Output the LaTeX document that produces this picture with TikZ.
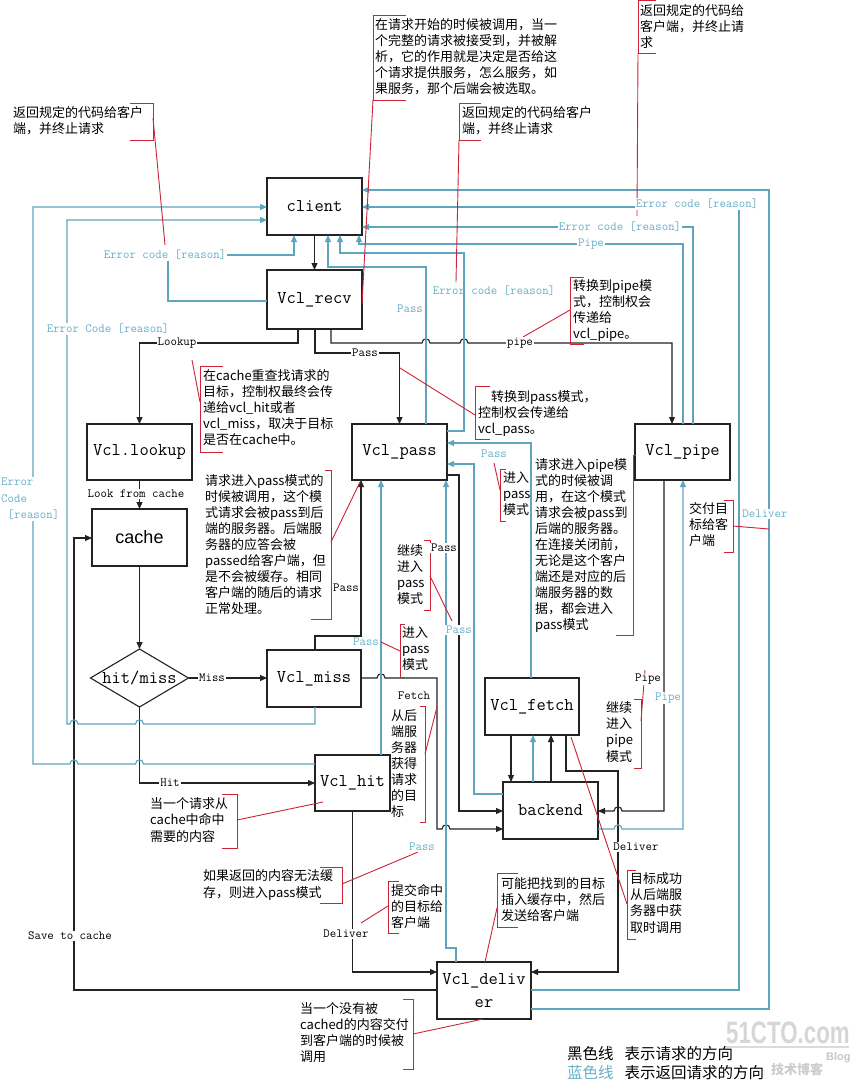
\documentclass[tikz,border=0pt]{standalone}
\usepackage{fontspec}
\newfontfamily\cjk{Noto Sans CJK SC}
\setsansfont{Liberation Sans}
\usetikzlibrary{arrows.meta,shapes.geometric}
\definecolor{lblue}{RGB}{95,165,190}
\definecolor{tblue}{RGB}{105,175,200}
\definecolor{rred}{RGB}{205,35,55}
\definecolor{boxc}{RGB}{35,35,35}
\begin{document}
\begin{tikzpicture}[x=1pt,y=-1pt,
  box/.style={draw=boxc, fill=white, line width=1.1pt, inner sep=0pt, outer sep=0pt, font=\ttfamily\fontsize{18}{23}\selectfont},
  bl/.style={draw=boxc, line width=1.1pt},
  bu/.style={draw=lblue, line width=1.1pt},
  rd/.style={draw=rred, line width=0.9pt},
  arr/.style={-{Triangle[length=7pt,width=6pt]}},
  lab/.style={font=\ttfamily\fontsize{12.5}{14}\selectfont, inner sep=1pt, fill=white},
  blab/.style={lab, text=tblue},
  note/.style={font=\cjk\fontsize{13}{16}\selectfont, align=left, anchor=north west, inner sep=0pt}]
\fill[white] (0,0) rectangle (864,1085);
\useasboundingbox (0,0) rectangle (864,1085);

% boxes
\node[box, minimum width=95pt, minimum height=57pt] (client) at (314.5,206.5) {client};
\node[box, minimum width=95pt, minimum height=59pt] (recv) at (314.5,299.5) {Vcl\_recv};
\node[box, minimum width=105pt, minimum height=56pt] (lookup) at (139.5,452) {Vcl.lookup};
\node[box, minimum width=95pt, minimum height=57pt, font=\sffamily\fontsize{18}{22}\selectfont] (cache) at (139.5,537.5) {cache};
\node[draw=boxc, fill=white, line width=1.1pt, diamond, minimum width=98pt, minimum height=58pt, inner sep=0pt, outer sep=0pt] (hm) at (139.5,678) {};
\node[font=\ttfamily\fontsize{18}{22}\selectfont, inner sep=0pt] (hmt) at (hm.center) {hit/miss};
\node[box, minimum width=94pt, minimum height=57pt] (miss) at (314,678.5) {Vcl\_miss};
\node[box, minimum width=75pt, minimum height=56pt] (hit) at (352.5,783) {Vcl\_hit};
\node[box, minimum width=95pt, minimum height=56pt] (pass) at (399.5,452) {Vcl\_pass};
\node[box, minimum width=95pt, minimum height=56pt] (pipe) at (682.5,452) {Vcl\_pipe};
\node[box, minimum width=94pt, minimum height=57pt] (fetch) at (532,706.5) {Vcl\_fetch};
\node[box, minimum width=95pt, minimum height=57pt] (backend) at (550.5,810.5) {backend};
\node[box, minimum width=94pt, minimum height=57pt, align=center] (deliver) at (484,990.5) {Vcl\_deliv\\er};

% black connectors (request direction)
\draw[bl,arr] (client.south) -- (recv.north);
\draw[bl,arr] (recv.south -| 298,0) |- (139.5,343) -- (lookup.north);
\draw[bl,arr] (recv.south -| 315,0) |- (399.5,353) -- (pass.north);
\draw[bl,arr] (recv.south -| 331,0) -- (331,343) -- (422,343) .. controls (422,337.5) and (430,337.5) .. (430,343) -- (460,343) .. controls (460,337.5) and (468,337.5) .. (468,343) -- (672,343) -- (pipe.north -| 672,0);
\draw[bl,arr] (lookup.south) -- (cache.north);
\draw[bl,arr] (cache.south) -- (hm.north);
\draw[bl,arr] (hm.east) -- (miss.west |- hm.east);
\draw[bl,arr] (hm.south) |- (hit.west);
\draw[bl,arr] (miss.north -| 315,0) |- (361,636) -- (pass.south -| 361,0);
\draw[bl,arr] (miss.east |- 0,678) -- (377,678) .. controls (377,672.5) and (385,672.5) .. (385,678) -- (437,678) -- (437,829) -- (442,829) .. controls (442,823.5) and (450,823.5) .. (450,829) -- (backend.west |- 0,829);
\draw[bl,arr] (pass.east |- 0,475) -| (459,811) -- (backend.west |- 0,811);
\draw[bl,arr] (fetch.south -| 511,0) -- (backend.north -| 511,0);
\draw[bl,arr] (backend.north -| 551,0) -- (fetch.south -| 551,0);
\draw[bl,arr] (fetch.south -| 566,0) |- (618,771) -- (618,972) -- (deliver.east |- 0,972);
\draw[bl,arr] (pipe.south -| 664,0) -- (664,811) -- (622,811) .. controls (622,805.5) and (614,805.5) .. (614,811) -- (backend.east |- 0,811);
\draw[bl,arr] (hit.south) |- (deliver.west |- 0,972);
\draw[bl,arr] (deliver.west |- 0,990) -| (74,538) -- (cache.west |- 0,538);

% blue connectors (return direction)
\draw[bu,arr] (hit.west |- 0,764) -- (143.5,764) .. controls (143.5,758.5) and (135.5,758.5) .. (135.5,764) -- (78,764) .. controls (78,758.5) and (70,758.5) .. (70,764) -- (33,764) -- (33,207) -- (client.west |- 0,207);
\draw[bu,arr] (miss.south -| 315,0) -- (315,724) -- (143.5,724) .. controls (143.5,718.5) and (135.5,718.5) .. (135.5,724) -- (78,724) .. controls (78,718.5) and (70,718.5) .. (70,724) -- (67,724) -- (67,220) -- (client.west |- 0,220);
\draw[bu,arr] (recv.west |- 0,301) -- (168,301) -- (168,255) -- (294,255) -- (client.south -| 294,0);
\draw[bu,arr] (pass.north -| 426,0) -- (426,267) -- (328,267) -- (client.south -| 328,0);
\draw[bu,arr] (pass.east |- 0,431) -- (464,431) -- (464,253) -- (340,253) -- (client.south -| 340,0);
\draw[bu,arr] (pipe.north -| 683,0) -- (683,244) -- (359,244) -- (client.south -| 359,0);
\draw[bu,arr] (pipe.north -| 693,0) -- (693,227) -- (client.east |- 0,227);
\draw[bu,arr] (deliver.east |- 0,990) -- (739,990) -- (739,207) -- (client.east |- 0,207);
\draw[bu,arr] (deliver.east |- 0,1009) -- (769,1009) -- (769,190) -- (client.east |- 0,190);
\draw[bu,arr] (hit.north -| 381,0) -- (pass.south -| 381,0);
\draw[bu,arr] (deliver.north -| 456,0) -- (456,948) -- (446,948) -- (pass.south -| 446,0);
\draw[bu,arr] (fetch.north -| 531,0) -- (531,443) -- (pass.east |- 0,443);
\draw[bu,arr] (backend.west |- 0,794) -- (474,794) -- (474,464) -- (pass.east |- 0,464);
\draw[bu,arr] (backend.north -| 533,0) -- (fetch.south -| 533,0);
\draw[bu,arr] (backend.east |- 0,829) -- (614,829) .. controls (614,823.5) and (622,823.5) .. (622,829) -- (683,829) -- (pipe.south -| 683,0);

% red annotation brackets and pointers
\draw[rd] (130,103) -- (153,103) -- (153,140) -- (130,140);
\draw[rd] (153,118) -- (165,245);
\draw[rd] (406,15) -- (373,15) -- (373,100) -- (406,100);
\draw[rd] (373,100) -- (362,304);
\draw[rd] (481,103) -- (459,103) -- (459,140) -- (481,140);
\draw[rd] (459,140) -- (456,282);
\draw[rd] (656,0.5) -- (638,0.5) -- (638,53) -- (656,53);
\draw[rd] (638,53) -- (637,216);
\draw[rd] (584,277) -- (570,277) -- (570,344) -- (584,344);
\draw[rd] (570,310) -- (523,337);
\draw[rd] (223,366) -- (200,366) -- (200,452) -- (223,452);
\draw[rd] (200,402) -- (192,360);
\draw[rd] (490,386) -- (475,386) -- (475,439) -- (490,439);
\draw[rd] (475,415) -- (400,368);
\draw[rd] (506,469) -- (500,469) -- (500,521) -- (506,521);
\draw[rd] (500,490) -- (494,463);
\draw[rd] (636,455) -- (633,455) -- (633,635) -- (616,635);
\draw[rd] (424,540) -- (430,540) -- (430,610) -- (424,610);
\draw[rd] (430,576) -- (452,621);
\draw[rd] (325,470) -- (331,470) -- (331,619) -- (311,619);
\draw[rd] (331,542) -- (360,482);
\draw[rd] (405,624) -- (400,624) -- (400,677) -- (405,677);
\draw[rd] (400,651) -- (381,642);
\draw[rd] (420,706) -- (425,706) -- (425,822) -- (420,822);
\draw[rd] (425,754) -- (437,707);
\draw[rd] (222,794) -- (237,794) -- (237,848) -- (222,848);
\draw[rd] (237,820) -- (323,802);
\draw[rd] (320,867) -- (342,867) -- (342,903) -- (320,903);
\draw[rd] (342,884) -- (418,852);
\draw[rd] (399,881) -- (388,881) -- (388,933) -- (399,933);
\draw[rd] (388,906) -- (361,923);
\draw[rd] (518,873) -- (497,873) -- (497,927) -- (518,927);
\draw[rd] (497,908) -- (485,962);
\draw[rd] (636,870) -- (627,870) -- (627,939) -- (636,939);
\draw[rd] (627,904) -- (571,737);
\draw[rd] (403,999) -- (413,999) -- (413,1069) -- (403,1069);
\draw[rd] (413,1034) -- (483,1019);
\draw[rd] (724,500) -- (733,500) -- (733,552) -- (724,552);
\draw[rd] (733,526) -- (769,529);
\draw[rd] (634,699) -- (641,699) -- (641,768) -- (634,768);
\draw[rd] (641,721) -- (645,670);

% connector labels
\node[lab] (t1) at (177,343) {Lookup};
\node[lab] (t2) at (365,353) {Pass};
\node[lab] (t3) at (520,343) {pipe};
\node[lab] (t4) at (136,494) {Look from cache};
\node[lab] (t5) at (212,678) {Miss};
\node[lab] (t6) at (170,783) {Hit};
\node[lab] (t7) at (346,588) {Pass};
\node[lab] (t8) at (414,696) {Fetch};
\node[lab] (t9) at (444,548) {Pass};
\node[lab] (t10) at (648,679) {Pipe};
\node[lab] (t11) at (346,934) {Deliver};
\node[lab] (t12) at (636,847) {Deliver};
\node[lab] (t13) at (70,936) {Save to cache};
\node[blab] (u1) at (165,255) {Error code [reason]};
\node[blab] (u2) at (108,329) {Error Code [reason]};
\node[blab, font=\ttfamily\fontsize{12.5}{16.5}\selectfont, align=left, anchor=north west] (u3) at (0,477) {Error\\Code\\\hspace*{6.5pt}[reason]};
\node[blab] (u4) at (410,309) {Pass};
\node[blab, fill=none] (u5) at (494,291) {Error code [reason]};
\node[blab] (u6) at (591,244) {Pipe};
\node[blab] (u7) at (620,227) {Error code [reason]};
\node[blab] (u8) at (697,204) {Error code [reason]};
\node[blab] (u9) at (765,514) {Deliver};
\node[blab] (u10) at (494,454) {Pass};
\node[blab] (u11) at (459,630) {Pass};
\node[blab] (u12) at (366,642) {Pass};
\node[blab] (u13) at (422,847) {Pass};
\node[blab] (u14) at (668,698) {Pipe};

% notes
\node[note] (n1) at (13,106) {返回规定的代码给客户\\端，并终止请求};
\node[note] (n2) at (375,18) {在请求开始的时候被调用，当一\\个完整的请求被接受到，并被解\\析，它的作用就是决定是否给这\\个请求提供服务，怎么服务，如\\果服务，那个后端会被选取。};
\node[note] (n3) at (462,106) {返回规定的代码给客户\\端，并终止请求};
\node[note] (n4) at (640,4) {返回规定的代码给\\客户端，并终止请\\求};
\node[note] (n5) at (573,279) {转换到pipe模\\式，控制权会\\传递给\\vcl\_pipe。};
\node[note] (n6) at (203,369) {在cache重查找请求的\\目标，控制权最终会传\\递给vcl\_hit或者\\vcl\_miss，取决于目标\\是否在cache中。};
\node[note] (n7) at (478,390) {　转换到pass模式，\\控制权会传递给\\vcl\_pass。};
\node[note] (n8) at (503,472) {进入\\pass\\模式};
\node[note] (n9) at (535,458) {请求进入pipe模\\式的时候被调\\用，在这个模式\\请求会被pass到\\后端的服务器。\\在连接关闭前，\\无论是这个客户\\端还是对应的后\\端服务器的数\\据，都会进入\\pass模式};
\node[note] (n10) at (397,544) {继续\\进入\\pass\\模式};
\node[note] (n11) at (205,474) {请求进入pass模式的\\时候被调用，这个模\\式请求会被pass到后\\端的服务器。后端服\\务器的应答会被\\passed给客户端，但\\是不会被缓存。相同\\客户端的随后的请求\\正常处理。};
\node[note] (n12) at (402,627) {进入\\pass\\模式};
\node[note] (n13) at (391,709) {从后\\端服\\务器\\获得\\请求\\的目\\标};
\node[note, font=\cjk\fontsize{13}{16.5}\selectfont] (n14) at (150,797) {当一个请求从\\cache中命中\\需要的内容};
\node[note, font=\cjk\fontsize{13}{17}\selectfont] (n15) at (203,869) {如果返回的内容无法缓\\存，则进入pass模式};
\node[note] (n16) at (391,884) {提交命中\\的目标给\\客户端};
\node[note] (n17) at (501,877) {可能把找到的目标\\插入缓存中，然后\\发送给客户端};
\node[note, font=\cjk\fontsize{13}{16.3}\selectfont] (n18) at (630,872) {目标成功\\从后端服\\务器中获\\取时调用};
\node[note] (n19) at (300,1002) {当一个没有被\\cached的内容交付\\到客户端的时候被\\调用};
\node[note] (n20) at (689,502) {交付目\\标给客\\户端};
\node[note, font=\cjk\fontsize{13}{16.3}\selectfont] (n21) at (606,701) {继续\\进入\\pipe\\模式};

% watermark
\node[font=\sffamily\bfseries\fontsize{31}{31}\selectfont, text=black!16, xscale=0.72, anchor=west, inner sep=0pt] (w1) at (726,1033) {51CTO.com};
\draw[black!14, line width=1.5pt] (726,1047) -- (849,1047);
\node[font=\cjk\bfseries\fontsize{13}{13}\selectfont, text=black!20, anchor=west, inner sep=0pt] (w2) at (771,1069) {技术博客};
\node[font=\sffamily\bfseries\fontsize{11}{11}\selectfont, text=black!22, anchor=west, inner sep=0pt] (w3) at (826,1058) {Blog};

% legend
\node[anchor=west, font=\cjk\fontsize{15.5}{19}\selectfont, inner sep=0pt] (lg1) at (567,1054) {黑色线\hspace{11pt}表示请求的方向};
\node[anchor=west, font=\cjk\fontsize{15.5}{19}\selectfont, inner sep=0pt] (lg2) at (567,1073) {\textcolor{tblue}{蓝色线}\hspace{11pt}表示返回请求的方向};
\end{tikzpicture}
\end{document}
